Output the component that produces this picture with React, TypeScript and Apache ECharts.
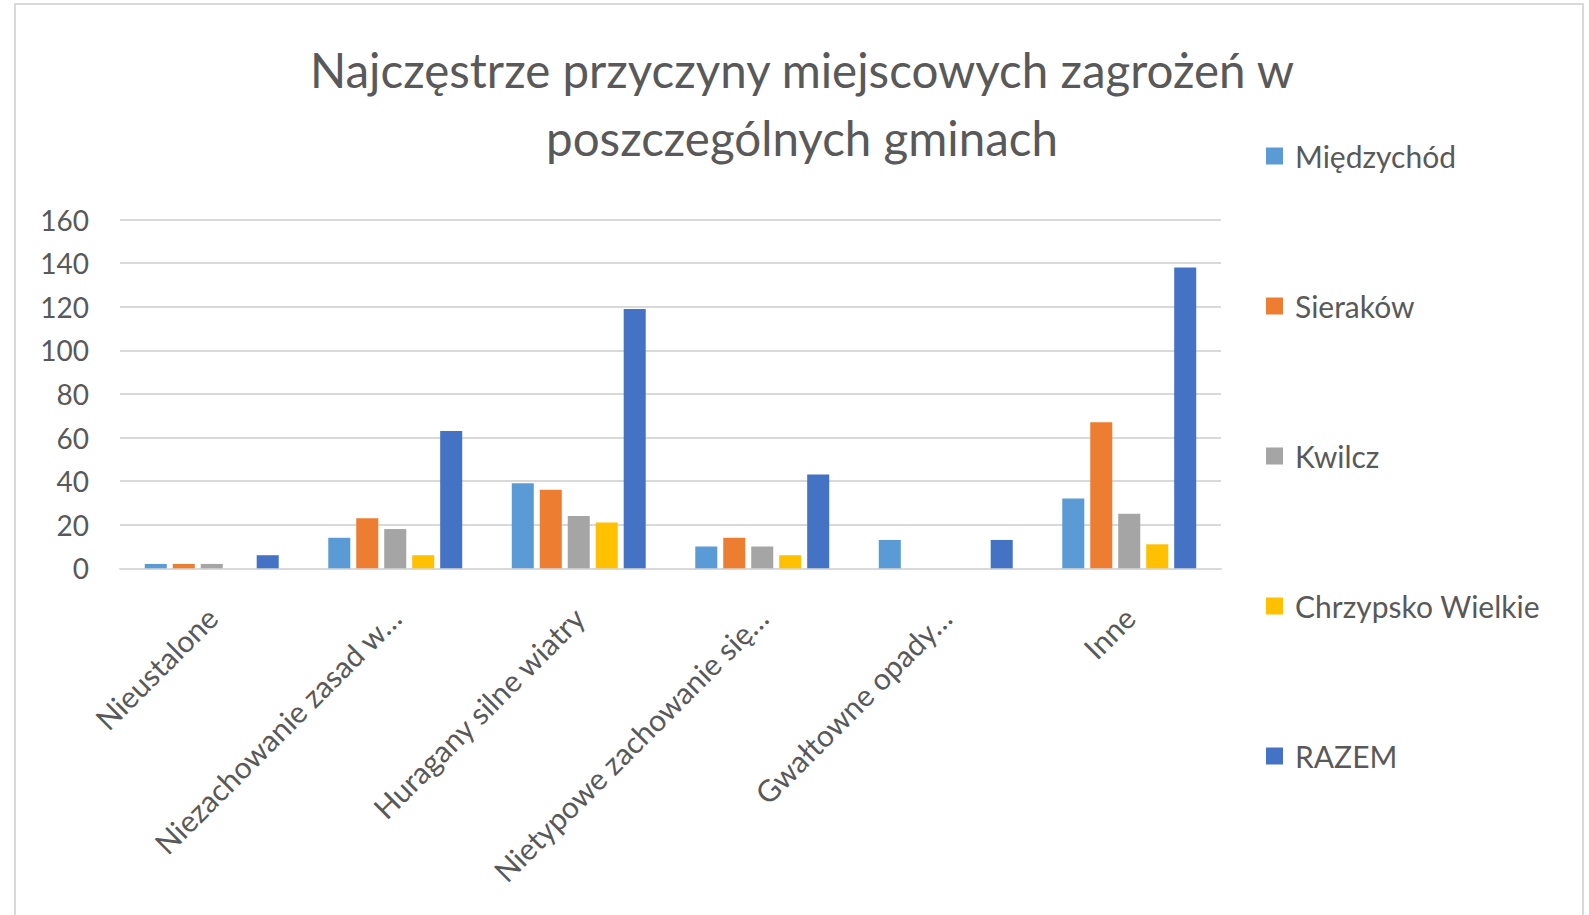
import React, { useEffect, useRef } from "react";
import * as echarts from "echarts";

const categories = [
  "Nieustalone",
  "Niezachowanie zasad w…",
  "Huragany silne wiatry",
  "Nietypowe zachowanie się…",
  "Gwałtowne opady…",
  "Inne",
];
const seriesNames = ["Międzychód", "Sieraków", "Kwilcz", "Chrzypsko Wielkie", "RAZEM"];
const miedzychod = [2, 14, 39, 10, 13, 32];
const sierakow = [2, 23, 36, 14, 0, 67];
const kwilcz = [2, 18, 24, 10, 0, 25];
const chrzypsko = [0, 6, 21, 6, 0, 11];
const razem = [6, 63, 119, 43, 13, 138];
const colors = ["#5B9BD5", "#ED7D31", "#A5A5A5", "#FFC000", "#4472C4"];
const titleLines = ["Najczęstrze przyczyny miejscowych zagrożeń w", "poszczególnych gminach"];

const FONT = "Lato, 'Noto Sans', sans-serif";

export default function App() {
  const ref = useRef<HTMLDivElement>(null);
  useEffect(() => {
    if (!ref.current) return;
    const chart = echarts.init(ref.current, null, { renderer: "svg" });
    const data = [miedzychod, sierakow, kwilcz, chrzypsko, razem];
    chart.setOption({
      animation: false,
      backgroundColor: "#ffffff",
      textStyle: { fontFamily: FONT },
      title: {
        text: titleLines.join("\n"),
        left: 797,
        top: 30,
        textAlign: "center",
        textStyle: {
          fontFamily: FONT,
          fontSize: 47.5,
          fontWeight: "normal",
          color: "#595959",
          lineHeight: 68,
        },
      },
      graphic: [
        {
          type: "rect",
          shape: { x: 15, y: 4, width: 1568, height: 960 },
          style: { fill: "none", stroke: "#D9D9D9", lineWidth: 2 },
          silent: true,
        },
      ],
      legend: {
        orient: "vertical",
        left: 1261,
        top: 134,
        itemWidth: 17,
        itemHeight: 17,
        itemGap: 116,
        icon: "rect",
        data: seriesNames,
        textStyle: {
          fontFamily: FONT,
          fontSize: 30,
          color: "#595959",
          lineHeight: 34,
          padding: [0, 0, 0, 7],
        },
      },
      grid: { left: 120, right: 368, top: 219.5, bottom: 346.7, containLabel: false },
      xAxis: {
        type: "category",
        data: categories,
        axisLine: { show: true, lineStyle: { color: "#D9D9D9", width: 2 } },
        axisTick: { show: false },
        axisLabel: {
          rotate: 45,
          interval: 0,
          margin: 44,
          fontFamily: FONT,
          fontSize: 30,
          color: "#595959",
        },
      },
      yAxis: {
        type: "value",
        min: 0,
        max: 160,
        interval: 20,
        axisLine: { show: false },
        axisTick: { show: false },
        splitLine: { lineStyle: { color: "#D9D9D9", width: 2 } },
        axisLabel: { margin: 31, fontFamily: FONT, fontSize: 28, color: "#595959" },
      },
      series: seriesNames.map((name, i) => ({
        name,
        type: "bar",
        data: data[i],
        barGap: "27%",
        barCategoryGap: "27%",
        itemStyle: { color: colors[i] },
      })),
    });
    return () => chart.dispose();
  }, []);
  return (
    <div
      ref={ref}
      style={{ position: "fixed", left: 0, top: 0, width: 1589, height: 915 }}
    />
  );
}
